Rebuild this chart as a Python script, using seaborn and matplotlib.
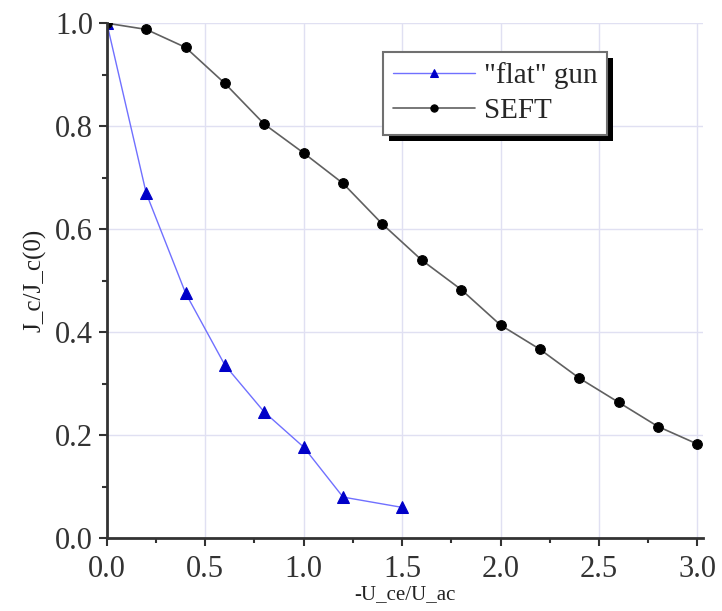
import pandas as pd
import seaborn as sns
from matplotlib import pyplot as plt
from matplotlib.patches import Rectangle
from matplotlib.ticker import MultipleLocator, FormatStrFormatter

# values
x_flat = [0.0, 0.2, 0.4, 0.6, 0.8, 1.0, 1.2, 1.5]
y_flat = [1.0, 0.670, 0.476, 0.336, 0.245, 0.177, 0.080, 0.060]
x_seft = [0.0, 0.2, 0.4, 0.6, 0.8, 1.0, 1.2, 1.4, 1.6, 1.8, 2.0, 2.2, 2.4, 2.6, 2.8, 3.0]
y_seft = [1.0, 0.988, 0.953, 0.883, 0.804, 0.748, 0.689, 0.610, 0.540, 0.483,
          0.414, 0.367, 0.311, 0.264, 0.217, 0.183]
labels = ['"flat" gun', 'SEFT']

sns.set_style('ticks')
plt.rcParams['font.family'] = ['Liberation Serif', 'DejaVu Serif']

fig = plt.figure(figsize=(7.22, 6.11), dpi=100)
ax = fig.add_axes([0.148, 0.119, 0.826, 0.843])

df_flat = pd.DataFrame({'x': x_flat, 'y': y_flat})
df_seft = pd.DataFrame({'x': x_seft, 'y': y_seft})

sns.lineplot(data=df_flat, x='x', y='y', ax=ax, color='#7070ff', lw=1.0,
             marker='^', markersize=8, markerfacecolor='#0000c8',
             markeredgecolor='#0000c8', label=labels[0])
sns.lineplot(data=df_seft, x='x', y='y', ax=ax, color='#606060', lw=1.2,
             marker='o', markersize=7, markerfacecolor='black',
             markeredgecolor='black', label=labels[1])

ax.set_xlim(0, 3.03)
ax.set_ylim(0, 1.0)
ax.xaxis.set_major_locator(MultipleLocator(0.5))
ax.xaxis.set_minor_locator(MultipleLocator(0.25))
ax.yaxis.set_major_locator(MultipleLocator(0.2))
ax.yaxis.set_minor_locator(MultipleLocator(0.1))
ax.xaxis.set_major_formatter(FormatStrFormatter('%.1f'))
ax.yaxis.set_major_formatter(FormatStrFormatter('%.1f'))

ax.grid(True, which='major', color='#e0e0f2', lw=1.0)
ax.set_axisbelow(True)
for s in ['top', 'right']:
    ax.spines[s].set_visible(False)
for s in ['left', 'bottom']:
    ax.spines[s].set_linewidth(2.0)
    ax.spines[s].set_color('#333333')

ax.tick_params(which='major', length=6, width=1.5, color='#333333',
               labelsize=22, labelcolor='#333333')
ax.tick_params(axis='x', which='major', pad=6)
ax.tick_params(axis='y', which='major', pad=4)
ax.tick_params(which='minor', length=3.5, width=1.5, color='#333333')

ax.set_xlabel('-U_ce/U_ac', fontsize=15, labelpad=1, color='#222222')
ax.set_ylabel('J_c/J_c(0)', fontsize=18, labelpad=6, color='#222222')

leg = ax.legend(loc='upper left', bbox_to_anchor=(0.463, 0.944), fontsize=21,
                frameon=True, fancybox=False, markerscale=0.75,
                handlelength=2.8, handletextpad=0.3, borderpad=0.35,
                labelspacing=0.3, borderaxespad=0)
leg.get_frame().set_edgecolor('#707070')
leg.get_frame().set_linewidth(1.5)
leg.get_frame().set_alpha(1)
leg.set_zorder(10)

# solid black drop shadow behind the legend box
fig.canvas.draw()
bb = leg.get_window_extent().transformed(ax.transAxes.inverted())
dx, dy = 6 / (0.826 * 722), 6 / (0.843 * 611)
shadow = Rectangle((bb.x0 + dx, bb.y0 - dy), bb.width, bb.height,
                   transform=ax.transAxes, facecolor='black',
                   edgecolor='none', zorder=9, clip_on=False)
ax.add_patch(shadow)

fig.savefig('out.png', dpi=100)
